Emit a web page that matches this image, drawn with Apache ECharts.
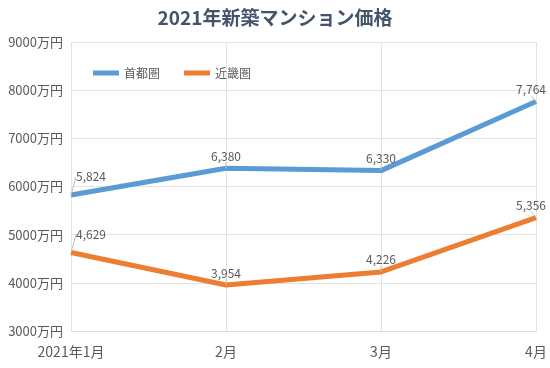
<!DOCTYPE html>
<html><head><meta charset="utf-8">
<script src="https://cdn.jsdelivr.net/npm/echarts@6/dist/echarts.min.js"></script>
<style>html,body{margin:0;padding:0;background:#fff}#c{width:550px;height:368px}</style>
</head><body><div id="c"></div>
<script>
var categories = ['2021年1月','2月','3月','4月'];
var tokyo = [5824, 6380, 6330, 7764];
var kinki = [4629, 3954, 4226, 5356];
var yTicks = [3000, 9000, 1000];
var font = '"Noto Sans CJK JP", "Noto Sans", sans-serif';
var chart = echarts.init(document.getElementById('c'));
function lbl(){
  return {show:true, position:'top', distance:6, color:'#595959', fontSize:12, fontFamily:font,
    formatter:function(p){return p.value.toLocaleString('en-US');}};
}
function layout(p){ if(p.dataIndex===0) return {dx:20, dy:-6}; if(p.dataIndex===3) return {dx:-5}; return {}; }
var icon = 'path://M0,0 L26,0 L26,5 L0,5 Z';
chart.setOption({
  animation:false,
  title:{text:'2021年新築マンション価格', left:'center', top:3,
    textStyle:{fontSize:19, fontWeight:'bold', color:'#44546a', fontFamily:font}},
  legend:{left:88, top:62, itemWidth:26, itemHeight:5, itemGap:24,
    data:[{name:'首都圏', icon:icon},{name:'近畿圏', icon:icon}],
    textStyle:{fontSize:12, color:'#595959', fontFamily:font}},
  grid:{left:71, right:14, top:42, bottom:37},
  xAxis:{type:'category', data:categories, boundaryGap:false,
    axisLine:{lineStyle:{color:'#d9d9d9'}}, axisTick:{show:false},
    splitLine:{show:true, lineStyle:{color:'#e3e3e3'}},
    axisLabel:{fontSize:14, color:'#595959', margin:14, fontFamily:font}},
  yAxis:{type:'value', min:yTicks[0], max:yTicks[1], interval:yTicks[2],
    axisLine:{show:false}, axisTick:{show:false},
    splitLine:{lineStyle:{color:'#e3e3e3'}},
    axisLabel:{formatter:function(v){return v+'万円';}, fontSize:13, color:'#595959', margin:8, fontFamily:font}},
  series:[
    {name:'首都圏', type:'line', data:tokyo, showSymbol:true, symbol:'circle', symbolSize:0.1,
      lineStyle:{width:5, color:'#5b9bd5'}, itemStyle:{color:'#5b9bd5'},
      label:lbl(), labelLine:{show:true, lineStyle:{color:'#bfbfbf', width:1}}, labelLayout:layout},
    {name:'近畿圏', type:'line', data:kinki, showSymbol:true, symbol:'circle', symbolSize:0.1,
      lineStyle:{width:5, color:'#ed7d31'}, itemStyle:{color:'#ed7d31'},
      label:lbl(), labelLine:{show:true, lineStyle:{color:'#bfbfbf', width:1}}, labelLayout:layout}
  ]
});
</script></body></html>
